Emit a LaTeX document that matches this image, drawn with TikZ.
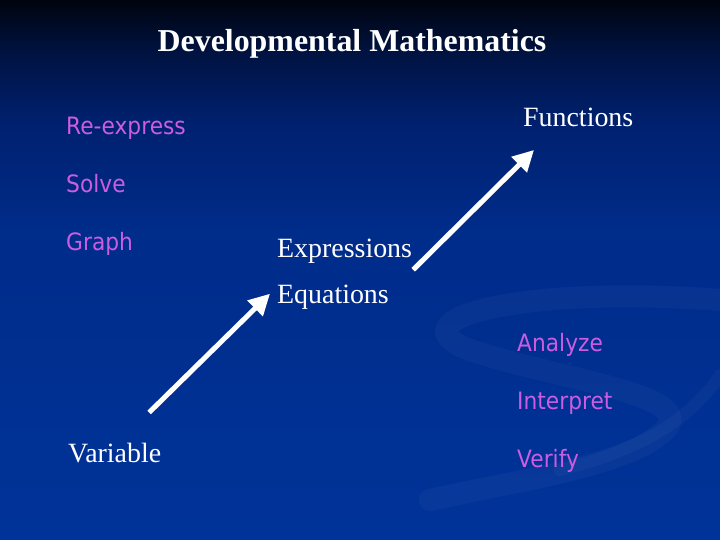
\documentclass[tikz,border=0pt]{standalone}
\usepackage{fontspec}
\setmainfont{Liberation Serif}
\newfontfamily\pinkfont[FakeStretch=0.91]{DejaVu Sans}
\usetikzlibrary{arrows.meta,calc}
\definecolor{bgA}{HTML}{00040F}
\definecolor{bgB}{HTML}{00123F}
\definecolor{bgC}{HTML}{00206E}
\definecolor{bgD}{HTML}{002C8A}
\definecolor{bgE}{HTML}{003399}
\definecolor{pinktext}{HTML}{CC5CE0}
\tikzset{
  whitelabel/.style={anchor=base west, inner sep=0pt, text=white, font=\fontsize{28}{32}\selectfont},
  pinklabel/.style={anchor=base west, inner sep=0pt, text=pinktext, font=\pinkfont\fontsize{24}{28}\selectfont},
  titlelabel/.style={anchor=base, inner sep=0pt, text=white, font=\bfseries\fontsize{32}{36}\selectfont},
  bigarrow/.style={draw=white, line width=5bp, -{Triangle[length=21bp,width=21bp]}},
  swirl/.style={draw=white, opacity=0.03, line width=22bp, line cap=round}
}
\begin{document}
\begin{tikzpicture}[x=1bp,y=-1bp]
\useasboundingbox (0,0) rectangle (720,540);
\shade[top color=bgA, bottom color=bgB] (0,0) rectangle (720,50.5);
\shade[top color=bgB, bottom color=bgC] (0,50) rectangle (720,120.5);
\shade[top color=bgC, bottom color=bgD] (0,120) rectangle (720,230.5);
\shade[top color=bgD, bottom color=bgE] (0,230) rectangle (720,540);
% faint background swirl
\draw[swirl] (720,300) .. controls (520,285) and (390,320) .. (470,350) .. controls (560,380) and (700,395) .. (665,430) .. controls (630,465) and (520,480) .. (430,500);
\draw[swirl, line width=12bp] (720,375) .. controls (690,420) and (640,450) .. (560,470);
% title
\node[titlelabel] (title) at (352,52) {Developmental Mathematics};
% pink labels
\node[pinklabel] (reexpress) at (66,134.5) {Re-express};
\node[pinklabel] (solve) at (66,192.5) {Solve};
\node[pinklabel] (graph) at (66,250.5) {Graph};
\node[pinklabel] (analyze) at (517,351) {Analyze};
\node[pinklabel] (interpret) at (517,409.5) {Interpret};
\node[pinklabel] (verify) at (517,467) {Verify};
% white labels
\node[whitelabel] (functions) at (523,126.5) {Functions};
\node[whitelabel] (expressions) at (277,258) {Expressions};
\node[whitelabel] (equations) at (277,303) {Equations};
\node[whitelabel] (variable) at (68,462) {Variable};
% arrows
\coordinate (a1s) at ([shift={(34.5,-30)}]variable.north);
\coordinate (a2e) at ([shift={(11,23)}]functions.south west);
\draw[bigarrow] (a1s) -- ([shift={(-7,-3)}]equations.west);
\draw[bigarrow] ([shift={(1,18)}]expressions.east) -- (a2e);
\end{tikzpicture}
\end{document}
